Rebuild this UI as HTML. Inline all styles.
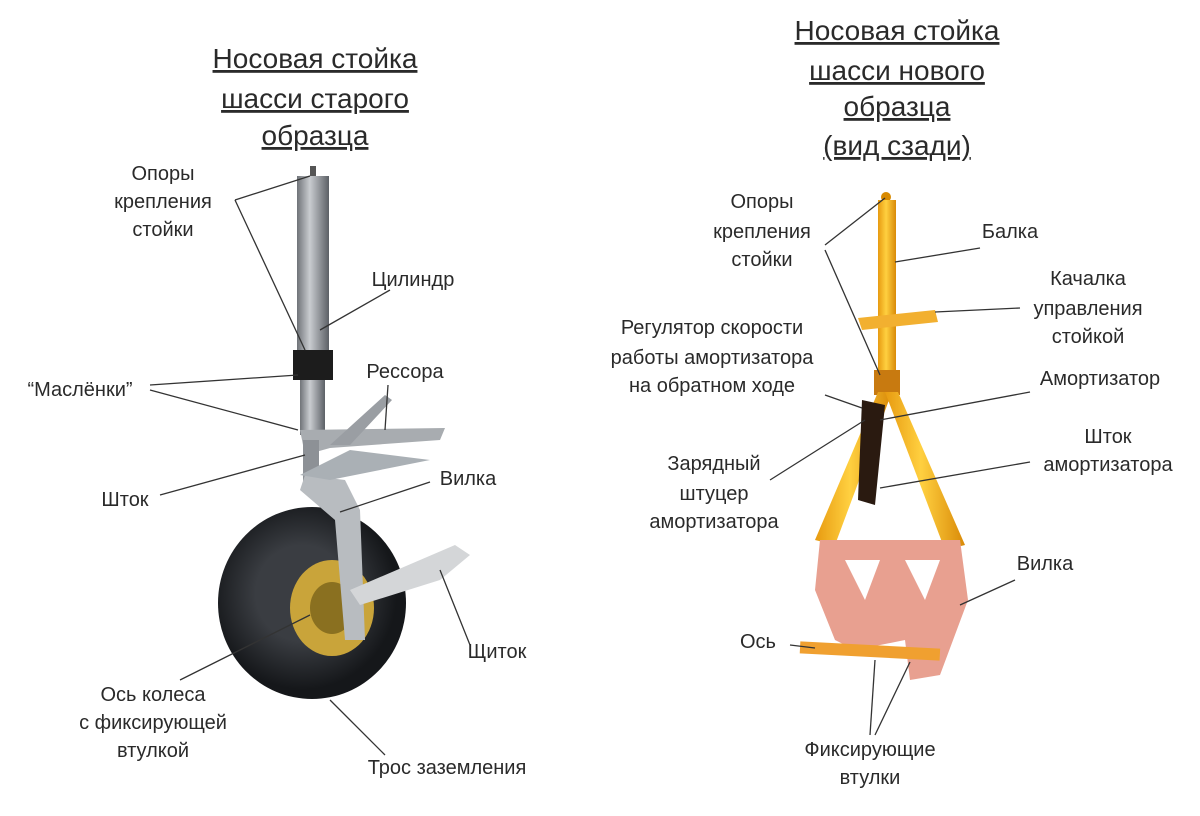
<!DOCTYPE html>
<html><head><meta charset="utf-8"><style>
body{margin:0;background:#fff}
svg{display:block}
text{font-family:"Liberation Sans",sans-serif;fill:#2a2a2a}
.t{font-size:28px;text-decoration:underline;text-anchor:middle}
.l{font-size:20px;text-anchor:middle}
.s{font-size:20px}
line{stroke:#333;stroke-width:1.3}
</style></head><body>
<svg width="1200" height="816" viewBox="0 0 1200 816">
<defs>
<linearGradient id="cyl" x1="0" x2="1"><stop offset="0" stop-color="#6f7378"/><stop offset=".4" stop-color="#c9ccd0"/><stop offset="1" stop-color="#5c6066"/></linearGradient>
<linearGradient id="yel" x1="0" x2="1"><stop offset="0" stop-color="#e79a10"/><stop offset=".45" stop-color="#ffd040"/><stop offset="1" stop-color="#d98a08"/></linearGradient>
<radialGradient id="tire" cx=".45" cy=".45"><stop offset=".5" stop-color="#3a3d42"/><stop offset="1" stop-color="#15171a"/></radialGradient>
</defs>
<!-- titles -->
<text class="t" x="315" y="68">Носовая стойка</text>
<text class="t" x="315" y="108">шасси старого</text>
<text class="t" x="315" y="145">образца</text>
<text class="t" x="897" y="40">Носовая стойка</text>
<text class="t" x="897" y="80">шасси нового</text>
<text class="t" x="897" y="116">образца</text>
<text class="t" x="897" y="155">(вид сзади)</text>

<!-- left strut -->
<rect x="310" y="166" width="6" height="12" fill="#555"/>
<rect x="297" y="176" width="32" height="180" fill="url(#cyl)"/>
<rect x="293" y="350" width="40" height="30" fill="#1c1c1c"/>
<rect x="300" y="380" width="25" height="55" fill="url(#cyl)"/>
<path d="M300 430 L445 428 L440 440 L330 448 L305 455Z" fill="#a8acb0"/>
<path d="M330 445 L385 395 L392 400 L350 445Z" fill="#9a9ea3"/>
<rect x="303" y="440" width="16" height="50" fill="#8d9196"/>
<ellipse cx="312" cy="603" rx="94" ry="96" fill="url(#tire)"/>
<ellipse cx="332" cy="608" rx="42" ry="48" fill="#c9a43a"/>
<ellipse cx="332" cy="608" rx="22" ry="26" fill="#8a7020"/>
<path d="M305 475 L345 480 L360 510 L365 640 L345 640 L335 520 L300 490Z" fill="#b8bcc0"/>
<path d="M350 590 L455 545 L470 555 L440 580 L360 605Z" fill="#d4d6d8"/>
<path d="M300 475 L350 450 L430 460 L330 480Z" fill="#aab0b5"/>

<!-- right strut -->
<circle cx="886" cy="197" r="5" fill="#d88a00"/>
<rect x="878" y="200" width="18" height="170" fill="url(#yel)"/>
<path d="M858 318 L935 310 L938 322 L862 330Z" fill="#f2b030"/>
<rect x="874" y="370" width="26" height="25" fill="#c87a10"/>
<path d="M878 392 L892 392 L835 545 L815 540Z" fill="url(#yel)"/>
<path d="M885 392 L898 392 L965 545 L945 550Z" fill="url(#yel)"/>
<path d="M862 400 L885 405 L875 505 L858 500Z" fill="#2a1a10"/>
<path d="M820 540 L960 540 L968 600 L940 675 L910 680 L905 640 L855 650 L835 640 L815 590Z M845 560 L865 600 L880 560Z M905 560 L925 600 L940 560Z" fill="#e8a090" fill-rule="evenodd"/>
<rect x="800" y="645" width="140" height="12" fill="#f0a030" transform="rotate(3 870 650)"/>

<!-- left labels -->
<text class="l" x="163" y="180">Опоры</text>
<text class="l" x="163" y="208">крепления</text>
<text class="l" x="163" y="236">стойки</text>
<text class="l" x="413" y="286">Цилиндр</text>
<text class="l" x="405" y="378">Рессора</text>
<text class="l" x="80" y="396">“Маслёнки”</text>
<text class="l" x="125" y="506">Шток</text>
<text class="l" x="468" y="485">Вилка</text>
<text class="l" x="497" y="658">Щиток</text>
<text class="l" x="153" y="701">Ось колеса</text>
<text class="l" x="153" y="729">с фиксирующей</text>
<text class="l" x="153" y="757">втулкой</text>
<text class="l" x="447" y="774">Трос заземления</text>
<line x1="235" y1="200" x2="310" y2="176"/>
<line x1="235" y1="200" x2="305" y2="350"/>
<line x1="390" y1="290" x2="320" y2="330"/>
<line x1="150" y1="385" x2="298" y2="375"/>
<line x1="150" y1="390" x2="298" y2="430"/>
<line x1="388" y1="385" x2="385" y2="430"/>
<line x1="160" y1="495" x2="305" y2="455"/>
<line x1="430" y1="482" x2="340" y2="512"/>
<line x1="470" y1="645" x2="440" y2="570"/>
<line x1="180" y1="680" x2="310" y2="615"/>
<line x1="330" y1="700" x2="385" y2="755"/>

<!-- right labels -->
<text class="l" x="762" y="208">Опоры</text>
<text class="l" x="762" y="238">крепления</text>
<text class="l" x="762" y="266">стойки</text>
<text class="l" x="1010" y="238">Балка</text>
<text class="l" x="1088" y="285">Качалка</text>
<text class="l" x="1088" y="315">управления</text>
<text class="l" x="1088" y="343">стойкой</text>
<text class="l" x="712" y="334">Регулятор скорости</text>
<text class="l" x="712" y="364">работы амортизатора</text>
<text class="l" x="712" y="392">на обратном ходе</text>
<text class="l" x="1100" y="385">Амортизатор</text>
<text class="l" x="1108" y="443">Шток</text>
<text class="l" x="1108" y="471">амортизатора</text>
<text class="l" x="714" y="470">Зарядный</text>
<text class="l" x="714" y="500">штуцер</text>
<text class="l" x="714" y="528">амортизатора</text>
<text class="l" x="1045" y="570">Вилка</text>
<text class="l" x="758" y="648">Ось</text>
<text class="l" x="870" y="756">Фиксирующие</text>
<text class="l" x="870" y="784">втулки</text>
<line x1="825" y1="245" x2="885" y2="198"/>
<line x1="825" y1="250" x2="880" y2="375"/>
<line x1="980" y1="248" x2="895" y2="262"/>
<line x1="1020" y1="308" x2="935" y2="312"/>
<line x1="825" y1="395" x2="862" y2="408"/>
<line x1="1030" y1="392" x2="880" y2="420"/>
<line x1="1030" y1="462" x2="880" y2="488"/>
<line x1="770" y1="480" x2="865" y2="420"/>
<line x1="1015" y1="580" x2="960" y2="605"/>
<line x1="790" y1="645" x2="815" y2="648"/>
<line x1="870" y1="735" x2="875" y2="660"/>
<line x1="875" y1="735" x2="910" y2="662"/>
</svg>
</body></html>
